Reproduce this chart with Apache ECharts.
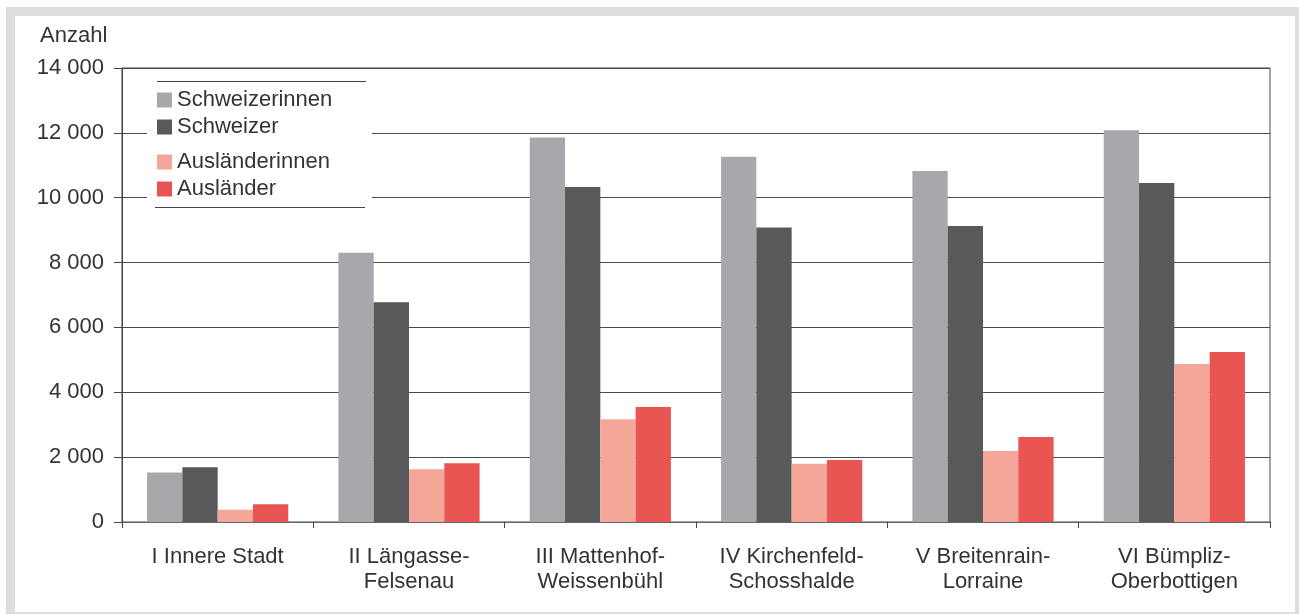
<!DOCTYPE html>
<html>
<head>
<meta charset="utf-8">
<script src="https://cdn.jsdelivr.net/npm/echarts@6/dist/echarts.min.js"></script>
<style>
  html, body { margin: 0; padding: 0; background: #ffffff; }
  #frame { position: absolute; left: 6px; top: 7px; width: 1293px; height: 607px; background: #dcdddf; }
  #chart { position: absolute; left: 15px; top: 16px; width: 1280px; height: 596px; background: #ffffff; }
</style>
</head>
<body>
<div id="frame"></div>
<div id="chart"></div>
<script>
// Wohnbevölkerung nach Stadtteil, Heimat und Geschlecht
const stadtteile = [
  'I Innere Stadt',
  'II Längasse-\nFelsenau',
  'III Mattenhof-\nWeissenbühl',
  'IV Kirchenfeld-\nSchosshalde',
  'V Breitenrain-\nLorraine',
  'VI Bümpliz-\nOberbottigen'
];
const schweizerinnen = [1530, 8300, 11860, 11260, 10820, 12080];
const schweizer      = [1690, 6780, 10330, 9080, 9130, 10450];
const auslaenderinnen = [380, 1630, 3170, 1800, 2190, 4870];
const auslaender      = [545, 1810, 3550, 1910, 2620, 5240];

const FONT = '"Liberation Sans", Arial, sans-serif';
const FS = 22;
const TEXT = '#333333';
const colors = {
  'Schweizerinnen': '#a7a8ab',
  'Schweizer': '#58595b',
  'Ausländerinnen': '#f4a699',
  'Ausländer': '#e95552'
};

function fmt(v) {
  return String(v).replace(/\B(?=(\d{3})+(?!\d))/g, ' ');
}

function legendItem(name, top) {
  return {
    data: [name],
    left: 142,
    top: top,
    padding: 0,
    orient: 'vertical',
    icon: 'rect',
    itemWidth: 15,
    itemHeight: 15,
    selectedMode: false,
    textStyle: { fontFamily: FONT, fontSize: FS, lineHeight: 22, color: TEXT }
  };
}

function barSeries(name, values) {
  return {
    name: name,
    type: 'bar',
    data: values,
    barGap: '0%',
    barCategoryGap: '26.2%',
    itemStyle: { color: colors[name] },
    emphasis: { disabled: true }
  };
}

const chart = echarts.init(document.getElementById('chart'), null, { renderer: 'canvas' });
chart.setOption({
  animation: false,
  backgroundColor: '#ffffff',
  title: {
    text: 'Anzahl',
    left: 25,
    top: 8,
    padding: 0,
    textStyle: { fontFamily: FONT, fontWeight: 'normal', fontSize: FS, lineHeight: 24, color: TEXT }
  },
  grid: {
    left: 107, right: 25, top: 52, bottom: 90,
    show: true, borderColor: '#444444', borderWidth: 1,
    backgroundColor: 'transparent'
  },
  legend: [
    legendItem('Schweizerinnen', 73),
    legendItem('Schweizer', 100),
    legendItem('Ausländerinnen', 135),
    legendItem('Ausländer', 162)
  ],
  graphic: [
    { type: 'rect', z: 3, silent: true, shape: { x: 132, y: 66.5, width: 225, height: 124.5 }, style: { fill: '#ffffff' } },
    { type: 'line', z: 3, silent: true, shape: { x1: 142, y1: 65.5, x2: 351, y2: 65.5 }, style: { stroke: '#444444', lineWidth: 1 } },
    { type: 'line', z: 3, silent: true, shape: { x1: 140, y1: 191.5, x2: 350, y2: 191.5 }, style: { stroke: '#444444', lineWidth: 1 } }
  ],
  xAxis: {
    type: 'category',
    data: stadtteile,
    axisLine: { show: true, lineStyle: { color: '#666666', width: 1 } },
    axisTick: { show: true, length: 6, alignWithLabel: false, lineStyle: { color: '#444444' } },
    axisLabel: {
      interval: 0,
      margin: 22,
      fontFamily: FONT, fontSize: FS, color: TEXT,
      lineHeight: 25
    }
  },
  yAxis: {
    type: 'value',
    min: 0,
    max: 14000,
    interval: 2000,
    axisLine: { show: true, lineStyle: { color: '#444444', width: 1 } },
    axisTick: { show: true, inside: false, length: 8, lineStyle: { color: '#444444' } },
    splitLine: { show: true, lineStyle: { color: '#4a4a4a', width: 1 } },
    axisLabel: {
      margin: 18,
      formatter: fmt,
      fontFamily: FONT, fontSize: FS, color: TEXT
    }
  },
  series: [
    barSeries('Schweizerinnen', schweizerinnen),
    barSeries('Schweizer', schweizer),
    barSeries('Ausländerinnen', auslaenderinnen),
    barSeries('Ausländer', auslaender)
  ]
});
</script>
</body>
</html>
